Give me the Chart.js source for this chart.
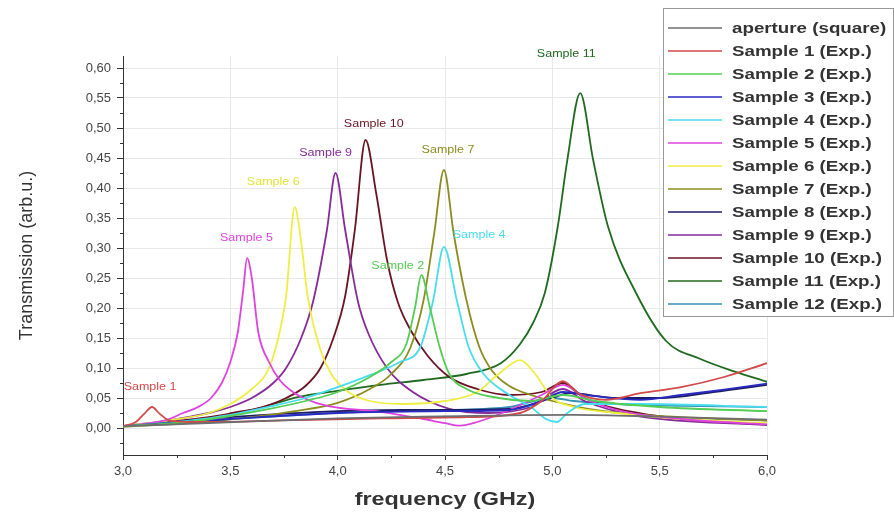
<!DOCTYPE html>
<html>
<head>
<meta charset="utf-8">
<script src="https://cdn.jsdelivr.net/npm/chart.js@4.4.1/dist/chart.umd.min.js"></script>
<style>
  html, body { margin: 0; padding: 0; background: #fff; }
  #wrap { width: 894px; height: 517px; }
</style>
</head>
<body>
<div id="wrap"><canvas id="myChart" width="894" height="517"></canvas></div>
<script>
// tick positions
const xTicks = [3.0, 3.5, 4.0, 4.5, 5.0, 5.5, 6.0];
const yTicks = [0.00, 0.05, 0.10, 0.15, 0.20, 0.25, 0.30, 0.35, 0.40, 0.45, 0.50, 0.55, 0.60];

// measured curves, [frequency GHz, transmission]
const aperture = [[3.0,0.003],[3.3,0.007],[3.6,0.011],[4.0,0.016],[4.4,0.019],[4.8,0.021],[5.1,0.022],[5.5,0.019],[6.0,0.014]];
const sample1 = [[3.0,0.003],[3.06,0.01],[3.1,0.024],[3.135,0.035],[3.17,0.024],[3.22,0.012],[3.4,0.01],[3.8,0.013],[4.2,0.016],[4.6,0.018],[4.85,0.025],[4.95,0.045],[5.05,0.078],[5.12,0.058],[5.25,0.047],[5.41,0.058],[5.6,0.068],[5.8,0.085],[6.0,0.108]];
const sample2 = [[3.0,0.003],[3.3,0.01],[3.5,0.02],[3.7,0.033],[3.85,0.045],[4.0,0.06],[4.15,0.085],[4.25,0.11],[4.32,0.14],[4.36,0.2],[4.39,0.255],[4.43,0.2],[4.475,0.135],[4.52,0.09],[4.6,0.065],[4.75,0.05],[4.9,0.045],[5.05,0.055],[5.2,0.045],[5.5,0.035],[6.0,0.028]];
const sample3 = [[3.0,0.003],[3.5,0.015],[4.0,0.025],[4.5,0.028],[4.8,0.03],[4.95,0.045],[5.05,0.06],[5.2,0.053],[5.41,0.047],[5.6,0.055],[5.8,0.064],[6.0,0.074]];
const sample4 = [[3.0,0.003],[3.3,0.012],[3.5,0.022],[3.7,0.037],[3.85,0.05],[4.0,0.068],[4.15,0.088],[4.29,0.11],[4.385,0.135],[4.445,0.213],[4.495,0.302],[4.555,0.213],[4.61,0.135],[4.68,0.09],[4.8,0.055],[4.9,0.035],[4.97,0.015],[5.02,0.01],[5.07,0.025],[5.15,0.04],[5.4,0.04],[6.0,0.035]];
const sample5 = [[3.0,0.003],[3.1,0.007],[3.2,0.013],[3.28,0.025],[3.35,0.035],[3.41,0.05],[3.46,0.075],[3.5,0.11],[3.535,0.16],[3.56,0.23],[3.578,0.283],[3.6,0.25],[3.63,0.16],[3.68,0.11],[3.73,0.08],[3.8,0.058],[3.9,0.042],[4.0,0.034],[4.2,0.027],[4.4,0.015],[4.5,0.008],[4.57,0.004],[4.65,0.01],[4.8,0.03],[4.95,0.055],[5.05,0.072],[5.15,0.05],[5.3,0.03],[5.6,0.015],[6.0,0.006]];
const sample6 = [[3.0,0.003],[3.2,0.012],[3.4,0.025],[3.5,0.04],[3.6,0.065],[3.68,0.10],[3.73,0.16],[3.76,0.22],[3.8,0.368],[3.83,0.31],[3.86,0.22],[3.92,0.13],[3.97,0.09],[4.05,0.06],[4.15,0.045],[4.3,0.04],[4.5,0.045],[4.65,0.06],[4.75,0.09],[4.85,0.113],[4.92,0.09],[5.0,0.05],[5.1,0.035],[5.3,0.025],[5.6,0.015],[6.0,0.008]];
const sample7 = [[3.0,0.002],[3.3,0.008],[3.6,0.018],[3.8,0.028],[4.0,0.042],[4.15,0.065],[4.25,0.09],[4.34,0.135],[4.40,0.213],[4.45,0.325],[4.495,0.43],[4.54,0.325],[4.60,0.213],[4.66,0.135],[4.72,0.095],[4.8,0.07],[4.9,0.055],[5.0,0.045],[5.2,0.03],[5.5,0.02],[6.0,0.012]];
const sample8 = [[3.0,0.003],[3.5,0.018],[4.0,0.028],[4.3,0.03],[4.8,0.032],[5.0,0.05],[5.08,0.058],[5.3,0.05],[5.5,0.05],[5.75,0.06],[6.0,0.072]];
const sample9 = [[3.0,0.003],[3.2,0.012],[3.4,0.025],[3.5,0.035],[3.6,0.05],[3.7,0.075],[3.76,0.10],[3.83,0.15],[3.885,0.21],[3.95,0.33],[3.99,0.425],[4.035,0.33],[4.095,0.21],[4.14,0.16],[4.23,0.10],[4.35,0.06],[4.52,0.032],[4.7,0.025],[4.9,0.035],[5.05,0.065],[5.15,0.045],[5.4,0.02],[6.0,0.005]];
const sample10 = [[3.0,0.003],[3.2,0.01],[3.4,0.018],[3.51,0.025],[3.65,0.035],[3.76,0.05],[3.85,0.07],[3.92,0.10],[3.98,0.15],[4.035,0.22],[4.08,0.33],[4.13,0.48],[4.18,0.39],[4.23,0.28],[4.28,0.21],[4.34,0.163],[4.42,0.12],[4.52,0.085],[4.65,0.065],[4.8,0.055],[4.95,0.06],[5.05,0.075],[5.15,0.05],[5.4,0.025],[5.7,0.012],[6.0,0.006]];
const sample11 = [[3.0,0.003],[3.3,0.012],[3.6,0.03],[3.82,0.052],[4.0,0.062],[4.2,0.072],[4.4,0.08],[4.6,0.09],[4.76,0.108],[4.85,0.14],[4.91,0.175],[4.965,0.225],[5.025,0.335],[5.07,0.447],[5.13,0.558],[5.19,0.447],[5.26,0.335],[5.39,0.225],[5.53,0.145],[5.69,0.115],[5.85,0.094],[6.0,0.077]];
const sample12 = [[3.0,0.003],[3.5,0.015],[4.0,0.025],[4.5,0.03],[4.8,0.035],[5.0,0.05],[5.1,0.045],[5.3,0.04],[5.6,0.037],[6.0,0.035]];

const seriesNames = ['aperture (square)', 'Sample 1 (Exp.)', 'Sample 2 (Exp.)', 'Sample 3 (Exp.)', 'Sample 4 (Exp.)',
  'Sample 5 (Exp.)', 'Sample 6 (Exp.)', 'Sample 7 (Exp.)', 'Sample 8 (Exp.)', 'Sample 9 (Exp.)',
  'Sample 10 (Exp.)', 'Sample 11 (Exp.)', 'Sample 12 (Exp.)'];
const seriesData = [aperture, sample1, sample2, sample3, sample4, sample5, sample6,
  sample7, sample8, sample9, sample10, sample11, sample12];
const seriesColors = ['#6e6e6e', '#d24a4a', '#55cc55', '#2a2ac0', '#48dced', '#dd44dd', '#eeee44',
  '#8c8c22', '#1c1c66', '#862c98', '#6a1424', '#1f6a1f', '#3592b4'];

// peak labels: text, frequency, transmission, colour
const peakLabels = [
  ['Sample 1', 3.126, 0.068, '#d24a4a'],
  ['Sample 5', 3.575, 0.317, '#dd44dd'],
  ['Sample 6', 3.70, 0.41, '#e2e23a'],
  ['Sample 9', 3.944, 0.458, '#862c98'],
  ['Sample 10', 4.168, 0.507, '#6a1424'],
  ['Sample 2', 4.28, 0.27, '#55cc55'],
  ['Sample 7', 4.514, 0.463, '#8c8c22'],
  ['Sample 4', 4.659, 0.322, '#48dced'],
  ['Sample 11', 5.065, 0.623, '#1f6a1f']
];

const FONT = '"Liberation Sans", Arial, sans-serif';
const comma = v => v.toFixed(v >= 3 ? 1 : 2).replace('.', ',');

// text squeezed wider, the reference type runs wide
function wideText(ctx, text, x, y, sx) {
  ctx.save();
  ctx.translate(x, y);
  ctx.scale(sx, 1);
  ctx.fillText(text, 0, 0);
  ctx.restore();
}

const extras = {
  id: 'extras',
  afterDatasetsDraw(chart) {
    const { ctx, scales: { x, y } } = chart;
    ctx.save();
    // minor ticks
    ctx.strokeStyle = '#333';
    ctx.lineWidth = 1;
    ctx.beginPath();
    for (let i = 0; i < xTicks.length - 1; i++) {
      const px = Math.round(x.getPixelForValue((xTicks[i] + xTicks[i + 1]) / 2)) + 0.5;
      ctx.moveTo(px, y.bottom);
      ctx.lineTo(px, y.bottom + 3);
    }
    for (let i = 0; i < yTicks.length - 1; i++) {
      const py = Math.round(y.getPixelForValue((yTicks[i] + yTicks[i + 1]) / 2)) + 0.5;
      ctx.moveTo(x.left, py);
      ctx.lineTo(x.left - 3, py);
    }
    const pm = Math.round(y.getPixelForValue(-0.025)) + 0.5;
    ctx.moveTo(x.left, pm);
    ctx.lineTo(x.left - 3, pm);
    ctx.stroke();

    // peak labels
    ctx.font = '10px ' + FONT;
    ctx.textAlign = 'center';
    ctx.textBaseline = 'middle';
    peakLabels.forEach(([t, fx, fy, c]) => {
      ctx.fillStyle = c;
      wideText(ctx, t, x.getPixelForValue(fx), y.getPixelForValue(fy), 1.25);
    });

    // axis titles
    ctx.fillStyle = '#333';
    ctx.font = 'bold 18px ' + FONT;
    wideText(ctx, 'frequency (GHz)', (x.left + x.right) / 2, 500, 1.3);
    ctx.save();
    ctx.translate(27, (y.top + y.bottom) / 2);
    ctx.rotate(-Math.PI / 2);
    ctx.font = '18px ' + FONT;
    ctx.fillText('Transmission (arb.u.)', 0, 0);
    ctx.restore();

    // legend box
    const bx = 663, by = 8, bw = 230, bh = 308;
    ctx.fillStyle = '#fff';
    ctx.fillRect(bx, by, bw, bh);
    ctx.strokeStyle = '#999';
    ctx.strokeRect(bx + 0.5, by + 0.5, bw, bh);
    ctx.font = 'bold 15px ' + FONT;
    ctx.textAlign = 'left';
    seriesNames.forEach((name, i) => {
      const ry = 28 + i * 23;
      ctx.strokeStyle = seriesColors[i];
      ctx.lineWidth = 1.5;
      ctx.beginPath();
      ctx.moveTo(668, ry);
      ctx.lineTo(722, ry);
      ctx.stroke();
      ctx.fillStyle = '#333';
      wideText(ctx, name, 732, ry + 1, 1.25);
    });
    ctx.restore();
  }
};

const datasets = seriesData.map((pts, i) => ({
  label: seriesNames[i],
  data: pts.map(p => ({ x: p[0], y: p[1] })),
  borderColor: seriesColors[i],
  backgroundColor: seriesColors[i],
  borderWidth: 1.8,
  pointRadius: 0,
  fill: false,
  cubicInterpolationMode: 'monotone'
}));

const ctx = document.getElementById('myChart').getContext('2d');
new Chart(ctx, {
  type: 'line',
  data: { datasets },
  options: {
    responsive: false,
    animation: false,
    layout: { padding: { top: 56, right: 127, left: 0, bottom: 0 } },
    plugins: { legend: { display: false }, tooltip: { enabled: false } },
    scales: {
      x: {
        type: 'linear',
        min: 3.0,
        max: 6.0,
        afterBuildTicks: s => { s.ticks = xTicks.map(v => ({ value: v })); },
        afterFit: s => { s.height = 62; },
        grid: { color: '#e8e8e8', tickColor: '#333', tickLength: 5 },
        border: { color: '#333', width: 1 },
        ticks: {
          padding: 4,
          color: '#444',
          font: { family: FONT, size: 13 },
          callback: v => comma(v)
        }
      },
      y: {
        type: 'linear',
        min: -0.045,
        max: 0.62,
        afterBuildTicks: s => { s.ticks = yTicks.map(v => ({ value: v })); },
        afterFit: s => { s.width = 123; },
        grid: { color: '#e8e8e8', tickColor: '#333', tickLength: 6 },
        border: { color: '#333', width: 1 },
        ticks: {
          padding: 6,
          color: '#444',
          font: { family: FONT, size: 13 },
          callback: v => comma(v)
        }
      }
    }
  },
  plugins: [extras]
});
</script>
</body>
</html>
